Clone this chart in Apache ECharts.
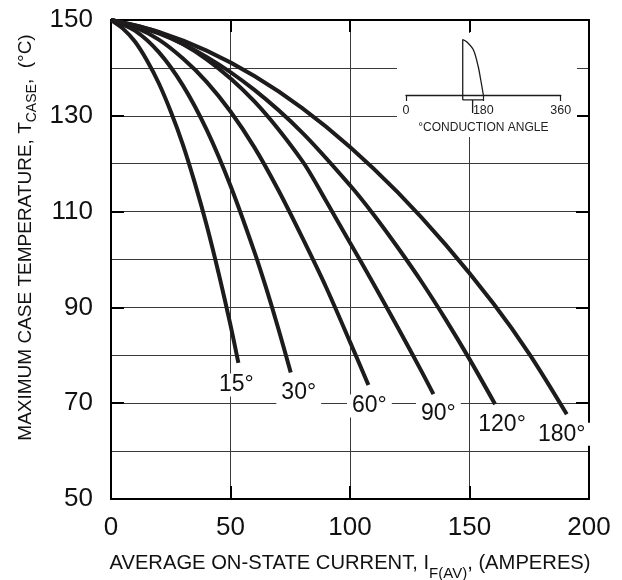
<!DOCTYPE html>
<html><head><meta charset="utf-8">
<script src="https://cdn.jsdelivr.net/npm/echarts@6/dist/echarts.min.js"></script>
<style>html,body{margin:0;padding:0;background:#fff}#c{width:622px;height:580px}</style>
</head><body><div id="c"></div>
<script>
// ---- data ----
const xTicks = [0, 50, 100, 150, 200];
const yTicks = [50, 70, 90, 110, 130, 150];
const curveNames = ['15°', '30°', '60°', '90°', '120°', '180°'];
const c15 = [[0,150],[5,148.2],[10,145.5],[15,141.6],[20,136.8],[25,130.9],[30,124.1],[35,116.1],[40,107.2],[45,97.2],[50,86.3],[53.3,78.4]];
const c30 = [[0,150],[10,147.8],[20,143.3],[30,136.4],[40,127.1],[50,115.4],[60,101.6],[65,93.9],[70,85.6],[75.2,76.4]];
const c60 = [[0,150],[10,148.5],[20,145.9],[30,142.0],[40,137.1],[50,130.9],[60,123.4],[70,114.5],[80,104.6],[90,94.2],[100,82.8],[107.7,73.8]];
const c90 = [[0,150],[20,147.4],[40,141.8],[60,133.0],[80,120.6],[90,112.2],[100,103.5],[110,94.8],[120,85.8],[130,76.6],[134.9,71.9]];
const c120 = [[0,150],[20,147.2],[40,142.3],[60,135.4],[80,126.5],[100,115.5],[110,109.3],[120,102.5],[130,95.3],[140,87.5],[150,79.2],[160.7,69.8]];
const c180 = [[0,150],[20,147.5],[40,143.6],[60,138.3],[80,131.6],[100,123.5],[120,114.0],[140,103.1],[160,90.8],[175,80.3],[190.7,67.7]];
const curves = [c15, c30, c60, c90, c120, c180];
// inset (conduction angle sketch)
const insetTicks = [0, 180, 360];
const pulse = [[132,-0.065],[132,0.74],[141,0.71],[157,0.6],[168,0.38],[174,0.2],[180,0]];
const bracket = [[132,-0.065],[180,-0.065]];
const pointer = [[155,-0.065],[155,-0.24]];

// ---- layout / style ----
const labelOffsets = [[-2,22],[8,20],[1,21],[5,20],[7,20],[-5,20]];
const FONT = 'Liberation Sans, Arial, Helvetica, sans-serif';
const gridColor = '#3a3a3a';

const chart = echarts.init(document.getElementById('c'), null, {renderer: 'canvas'});

const series = curves.map((d, i) => ({
  type: 'line', xAxisIndex: 0, yAxisIndex: 0, data: d,
  smooth: 0.3, symbol: 'none', showSymbol: false, z: 2,
  lineStyle: {color: '#1e1b1c', width: 4},
  endLabel: {
    show: true, formatter: curveNames[i], distance: 0,
    align: 'center', verticalAlign: 'middle', offset: labelOffsets[i],
    fontSize: 23, color: '#111', fontFamily: FONT,
    backgroundColor: '#fff', padding: [0, 5]
  }
}));
const insetLine = {color: '#1e1b1c', width: 1.3};
series.push(
  {type: 'line', xAxisIndex: 2, yAxisIndex: 2, data: pulse, symbol: 'none', z: 4, clip: false, lineStyle: insetLine, smooth: 0.3},
  {type: 'line', xAxisIndex: 2, yAxisIndex: 2, data: bracket, symbol: 'none', z: 4, clip: false, lineStyle: insetLine},
  {type: 'line', xAxisIndex: 2, yAxisIndex: 2, data: pointer, symbol: 'none', z: 4, clip: false, lineStyle: insetLine}
);

const frameLine = {show: true, onZero: false, lineStyle: {color: '#000', width: 2}};
const frameTick = {show: true, inside: true, length: 13, lineStyle: {color: '#000', width: 2}};

chart.setOption({
  animation: false,
  backgroundColor: '#fff',
  textStyle: {fontFamily: FONT},
  grid: [
    {left: 111, top: 20, width: 478, height: 479, containLabel: false, outerBoundsMode: 'none'},
    {left: 406, top: 20, width: 154.7, height: 75, containLabel: false, outerBoundsMode: 'none'}
  ],
  graphic: [
    {type: 'rect', z: 1, shape: {x: 397, y: 33, width: 180, height: 104}, style: {fill: '#fff'}}
  ],
  xAxis: [
    {
      gridIndex: 0, type: 'value', position: 'bottom',
      min: xTicks[0], max: xTicks[xTicks.length - 1], interval: xTicks[1] - xTicks[0],
      axisLine: frameLine, axisTick: frameTick,
      axisLabel: {fontSize: 26, color: '#111', margin: 16},
      splitLine: {show: true, lineStyle: {color: gridColor, width: 1}},
      name: '{m|AVERAGE ON-STATE CURRENT, I}{s|F(AV)}{m|, (AMPERES)}',
      nameLocation: 'middle', nameGap: 47,
      nameTextStyle: {
        color: '#111', fontSize: 20,
        rich: {m: {fontSize: 20.2, lineHeight: 20, verticalAlign: 'middle', color: '#111'},
               s: {fontSize: 15, lineHeight: 15, padding: [20, 0, 0, 0], verticalAlign: 'middle', color: '#111'}}
      }
    },
    {
      gridIndex: 0, type: 'value', position: 'top',
      min: xTicks[0], max: xTicks[xTicks.length - 1], interval: xTicks[1] - xTicks[0],
      axisLine: frameLine, axisTick: {show: true, inside: true, length: 12, lineStyle: {color: '#000', width: 2}},
      axisLabel: {show: false}, splitLine: {show: false}
    },
    {
      gridIndex: 1, type: 'value', position: 'bottom',
      min: insetTicks[0], max: insetTicks[2], interval: insetTicks[1] - insetTicks[0],
      z: 3,
      axisLine: {show: true, onZero: false, lineStyle: {color: '#1e1b1c', width: 1.3}},
      axisTick: {show: true, inside: false, length: 6, lineStyle: {color: '#1e1b1c', width: 1.2}},
      axisLabel: {fontSize: 12.5, color: '#222', margin: 9.5},
      splitLine: {show: false},
      name: '°CONDUCTION ANGLE', nameLocation: 'middle', nameGap: 27,
      nameTextStyle: {fontSize: 12, color: '#222'}
    }
  ],
  yAxis: [
    {
      gridIndex: 0, type: 'value', position: 'left',
      min: yTicks[0], max: yTicks[yTicks.length - 1], interval: yTicks[1] - yTicks[0],
      axisLine: frameLine, axisTick: frameTick,
      axisLabel: {fontSize: 26, color: '#111', margin: 18},
      splitLine: {show: true, lineStyle: {color: gridColor, width: 1}},
      minorTick: {show: false, splitNumber: 2},
      minorSplitLine: {show: true, lineStyle: {color: gridColor, width: 1}},
      name: '{m|MAXIMUM CASE TEMPERATURE, T}{s|CASE}{m|,  (°C)}',
      nameLocation: 'middle', nameGap: 71, nameRotate: 90,
      nameTextStyle: {
        color: '#111', fontSize: 19, padding: [0, 0, 0, 44],
        rich: {m: {fontSize: 19, lineHeight: 19, verticalAlign: 'middle', color: '#111'},
               s: {fontSize: 14, lineHeight: 14, padding: [12, 0, 0, 0], verticalAlign: 'middle', color: '#111'}}
      }
    },
    {
      gridIndex: 0, type: 'value', position: 'right',
      min: yTicks[0], max: yTicks[yTicks.length - 1], interval: yTicks[1] - yTicks[0],
      axisLine: frameLine, axisTick: frameTick,
      axisLabel: {show: false}, splitLine: {show: false}
    },
    {gridIndex: 1, type: 'value', min: 0, max: 1, show: false}
  ],
  series: series
});
</script>
</body></html>
